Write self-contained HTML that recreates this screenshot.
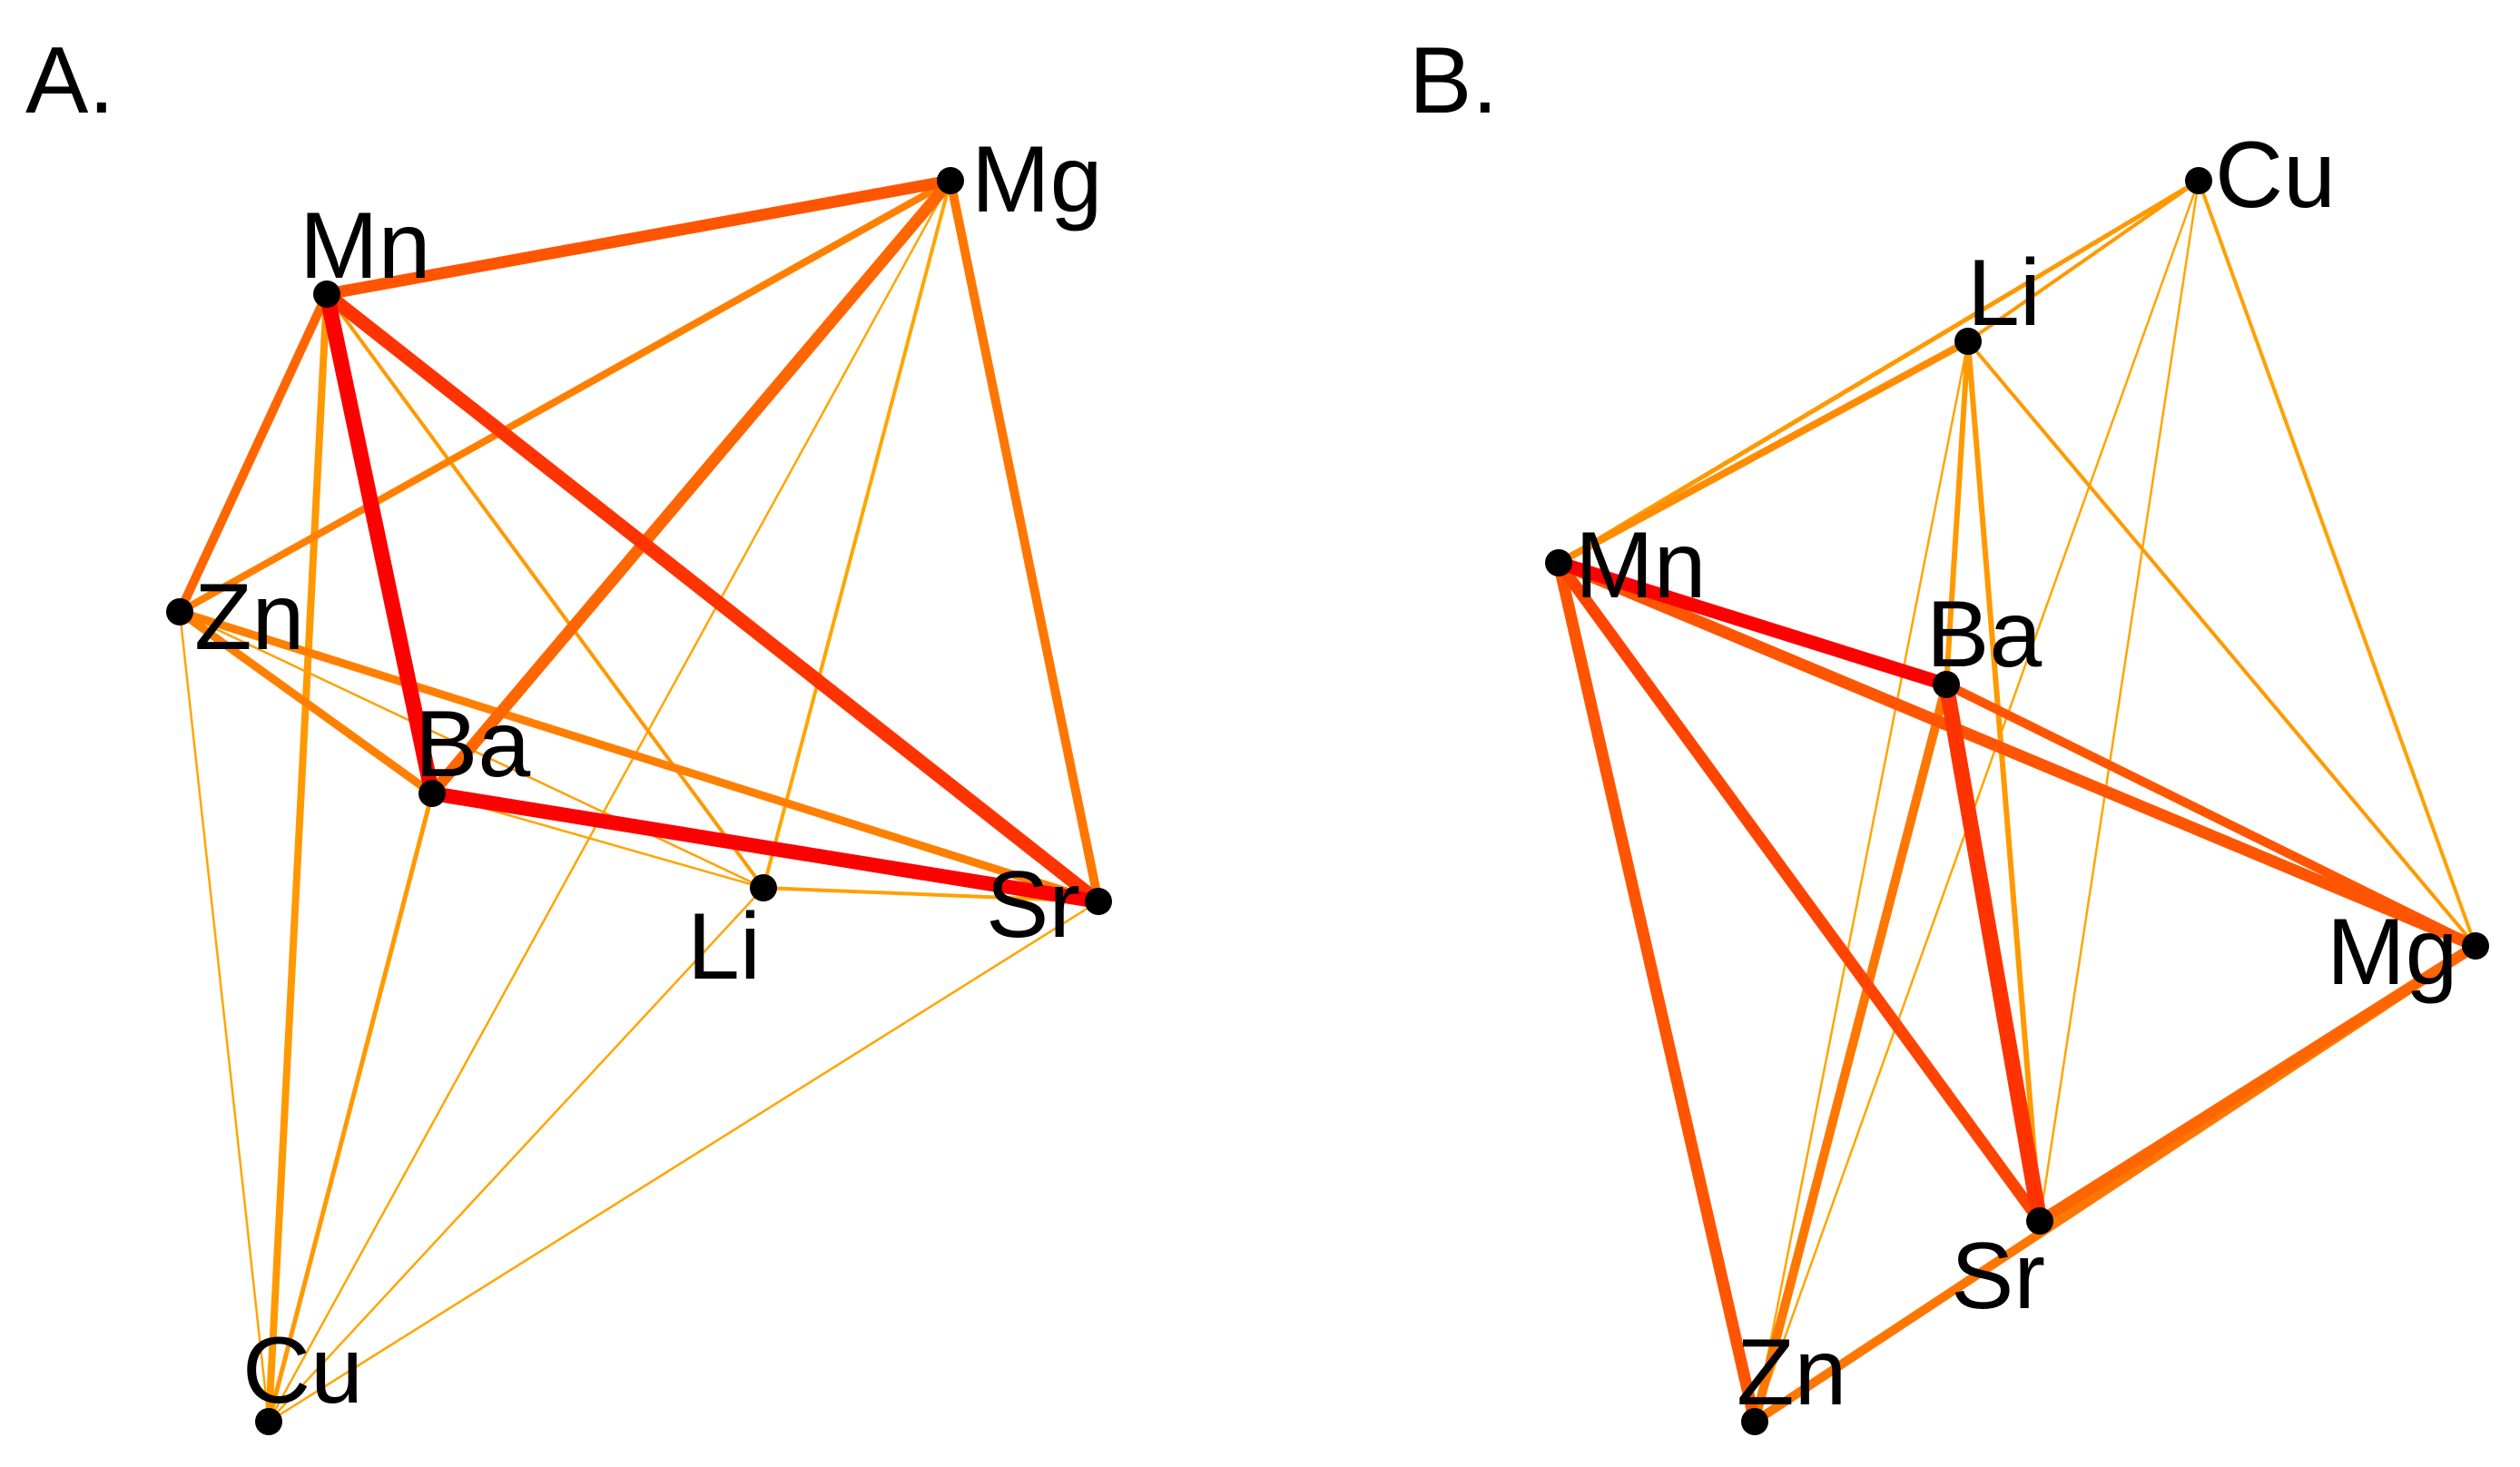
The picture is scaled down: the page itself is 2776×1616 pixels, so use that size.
<!DOCTYPE html>
<html><head><meta charset="utf-8"><style>html,body{margin:0;padding:0;background:#fff}svg{display:block}text{font-family:"Liberation Sans",sans-serif;font-size:104px;fill:#000}</style></head><body>
<svg width="2776" height="1616" viewBox="0 0 2776 1616" xmlns="http://www.w3.org/2000/svg">
<g stroke-linecap="round">
<line x1="296" y1="1566" x2="1047" y2="199" stroke="#ffa500" stroke-width="2.5"/>
<line x1="296" y1="1566" x2="1210" y2="993" stroke="#ffa500" stroke-width="2.5"/>
<line x1="296" y1="1566" x2="841" y2="978" stroke="#ffa500" stroke-width="2.5"/>
<line x1="296" y1="1566" x2="198" y2="674" stroke="#ffa500" stroke-width="2.5"/>
<line x1="296" y1="1566" x2="476" y2="874" stroke="#ff9900" stroke-width="5"/>
<line x1="296" y1="1566" x2="360" y2="324" stroke="#ff9900" stroke-width="8"/>
<line x1="360" y1="324" x2="841" y2="978" stroke="#ff9900" stroke-width="4"/>
<line x1="1047" y1="199" x2="841" y2="978" stroke="#ffa500" stroke-width="4"/>
<line x1="198" y1="674" x2="841" y2="978" stroke="#ffa000" stroke-width="2.5"/>
<line x1="476" y1="874" x2="841" y2="978" stroke="#ffa500" stroke-width="2.5"/>
<line x1="841" y1="978" x2="1210" y2="993" stroke="#ffa000" stroke-width="4"/>
<line x1="198" y1="674" x2="1047" y2="199" stroke="#ff8000" stroke-width="8"/>
<line x1="198" y1="674" x2="1210" y2="993" stroke="#ff8000" stroke-width="9"/>
<line x1="198" y1="674" x2="476" y2="874" stroke="#ff8000" stroke-width="9"/>
<line x1="360" y1="324" x2="198" y2="674" stroke="#ff6600" stroke-width="10"/>
<line x1="1047" y1="199" x2="1210" y2="993" stroke="#ff7700" stroke-width="10"/>
<line x1="1047" y1="199" x2="476" y2="874" stroke="#ff6600" stroke-width="13"/>
<line x1="360" y1="324" x2="1047" y2="199" stroke="#ff5500" stroke-width="13"/>
<line x1="360" y1="324" x2="1210" y2="993" stroke="#ff3300" stroke-width="15"/>
<line x1="476" y1="874" x2="1210" y2="993" stroke="#ff0000" stroke-width="16"/>
<line x1="360" y1="324" x2="476" y2="874" stroke="#ff0000" stroke-width="17"/>
<line x1="2168" y1="376" x2="1933" y2="1566" stroke="#ffa500" stroke-width="2.5"/>
<line x1="2422" y1="199" x2="1933" y2="1566" stroke="#ffa500" stroke-width="2.5"/>
<line x1="2422" y1="199" x2="2247" y2="1345" stroke="#ffa500" stroke-width="2.5"/>
<line x1="2422" y1="199" x2="2727" y2="1042" stroke="#ffa000" stroke-width="4"/>
<line x1="2168" y1="376" x2="2727" y2="1042" stroke="#ff9900" stroke-width="4"/>
<line x1="2168" y1="376" x2="2422" y2="199" stroke="#ff9900" stroke-width="4"/>
<line x1="1717" y1="620" x2="2422" y2="199" stroke="#ff9900" stroke-width="5"/>
<line x1="1717" y1="620" x2="2168" y2="376" stroke="#ff8c00" stroke-width="8"/>
<line x1="2168" y1="376" x2="2144" y2="754" stroke="#ff9900" stroke-width="6"/>
<line x1="2168" y1="376" x2="2247" y2="1345" stroke="#ff9900" stroke-width="6"/>
<line x1="1933" y1="1566" x2="2727" y2="1042" stroke="#ff7700" stroke-width="10"/>
<line x1="2247" y1="1345" x2="2727" y2="1042" stroke="#ff6600" stroke-width="12"/>
<line x1="2144" y1="754" x2="1933" y2="1566" stroke="#ff7700" stroke-width="10"/>
<line x1="2144" y1="754" x2="2727" y2="1042" stroke="#ff5500" stroke-width="10"/>
<line x1="1717" y1="620" x2="2727" y2="1042" stroke="#ff5500" stroke-width="13"/>
<line x1="1717" y1="620" x2="1933" y2="1566" stroke="#ff5500" stroke-width="13"/>
<line x1="1717" y1="620" x2="2247" y2="1345" stroke="#ff4400" stroke-width="13"/>
<line x1="2144" y1="754" x2="2247" y2="1345" stroke="#ff3300" stroke-width="17"/>
<line x1="1717" y1="620" x2="2144" y2="754" stroke="#ff0000" stroke-width="15"/>
</g>
<g fill="#000">
<circle cx="360" cy="324" r="15"/><circle cx="1047" cy="199" r="15"/><circle cx="198" cy="674" r="15"/><circle cx="476" cy="874" r="15"/><circle cx="841" cy="978" r="15"/><circle cx="1210" cy="993" r="15"/><circle cx="296" cy="1566" r="15"/>
<circle cx="2422" cy="199" r="15"/><circle cx="2168" cy="376" r="15"/><circle cx="1717" cy="620" r="15"/><circle cx="2144" cy="754" r="15"/><circle cx="2727" cy="1042" r="15"/><circle cx="2247" cy="1345" r="15"/><circle cx="1933" cy="1566" r="15"/>
</g>
<text x="28" y="124">A.</text>
<text x="1552" y="124">B.</text>
<text x="330" y="306">Mn</text>
<text x="1070" y="233">Mg</text>
<text x="214" y="715">Zn</text>
<text x="457" y="855">Ba</text>
<text x="757" y="1078">Li</text>
<text x="1086" y="1032">Sr</text>
<text x="267" y="1545">Cu</text>
<text x="2440" y="228">Cu</text>
<text x="2167" y="358">Li</text>
<text x="1735" y="658">Mn</text>
<text x="2122" y="734">Ba</text>
<text x="2563" y="1084">Mg</text>
<text x="2149" y="1441">Sr</text>
<text x="1913" y="1547">Zn</text>
</svg>
</body></html>
